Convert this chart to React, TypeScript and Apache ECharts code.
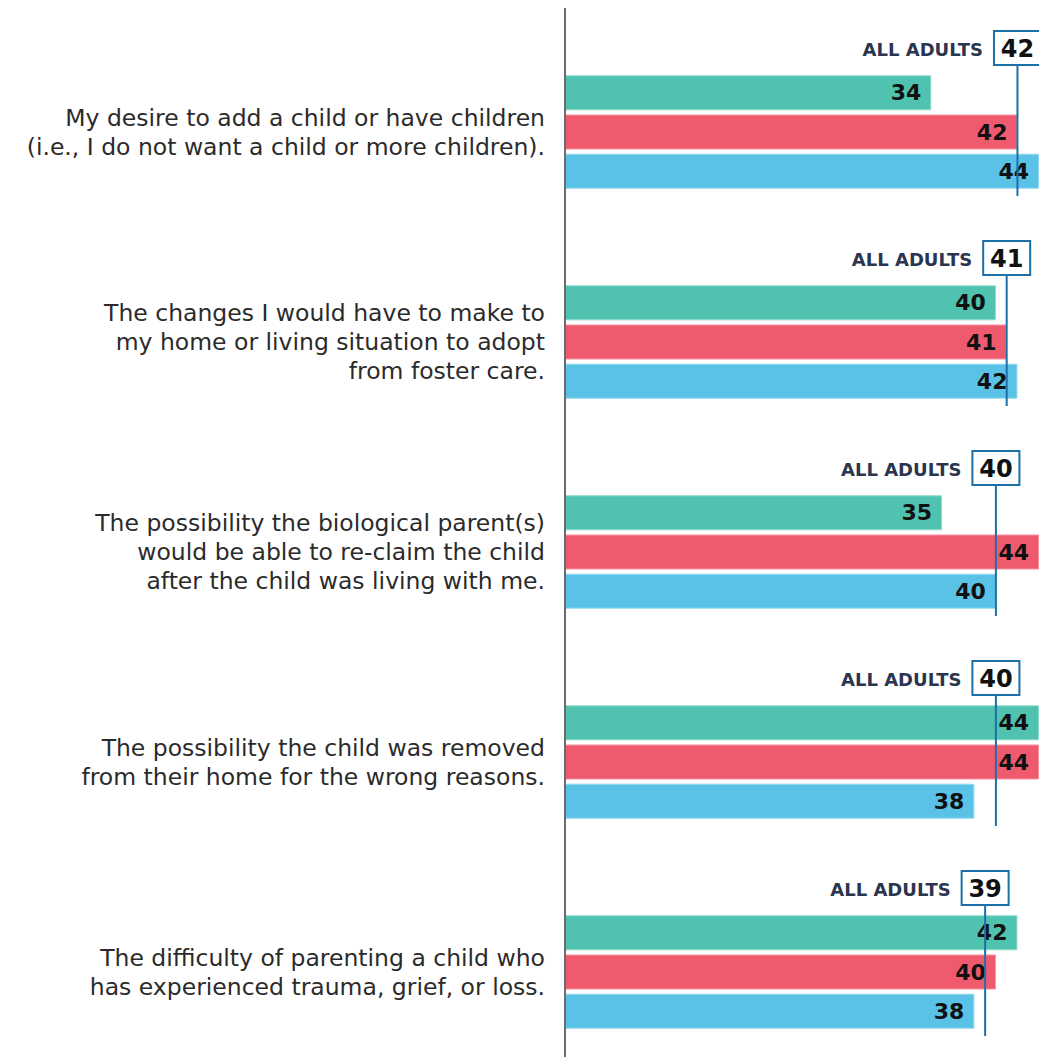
import React, { useEffect, useRef } from "react";
import * as echarts from "echarts";

const categories = [
  "My desire to add a child or have children\n(i.e., I do not want a child or more children).",
  "The changes I would have to make to\nmy home or living situation to adopt\nfrom foster care.",
  "The possibility the biological parent(s)\nwould be able to re-claim the child\nafter the child was living with me.",
  "The possibility the child was removed\nfrom their home for the wrong reasons.",
  "The difficulty of parenting a child who\nhas experienced trauma, grief, or loss.",
];
const greenValues = [34, 40, 35, 44, 42];
const redValues = [42, 41, 44, 44, 40];
const blueValues = [44, 42, 40, 38, 38];
const allAdultsValues = [42, 41, 40, 40, 39];
const markerLabel = "ALL ADULTS";

const FONT = "'DejaVu Sans', sans-serif";

export default function App() {
  const ref = useRef<HTMLDivElement>(null);
  useEffect(() => {
    if (!ref.current) return;
    const chart = echarts.init(ref.current, undefined, { renderer: "svg" });
    const barLabel = {
      show: true,
      position: "insideRight" as const,
      distance: 10,
      color: "#111",
      fontSize: 22,
      fontWeight: 600,
      fontFamily: FONT,
    };
    const mkBar = (name: string, data: number[], color: string, border: string) => ({
      type: "bar",
      name,
      data,
      barWidth: 35,
      barGap: "12%",
      itemStyle: { color, borderColor: border, borderWidth: 1 },
      label: barLabel,
      z: 2,
    });
    chart.setOption({
      animation: false,
      grid: { left: 565, right: 0, top: 27, bottom: 0, containLabel: false },
      xAxis: { type: "value", min: 0, max: 44, show: false },
      yAxis: {
        type: "category",
        data: categories,
        inverse: true,
        axisLine: { show: false },
        axisTick: { show: false },
        axisLabel: {
          margin: 20,
          fontSize: 23.5,
          lineHeight: 29,
          color: "#2b2b2b",
          fontFamily: FONT,
          align: "right",
        },
      },
      graphic: [
        {
          type: "line",
          shape: { x1: 565, y1: 8, x2: 565, y2: 1077 },
          style: { stroke: "#6b6b6b", lineWidth: 2 },
          z: 10,
        },
      ],
      series: [
        mkBar("green", greenValues, "#4FC3AF", "#8fdccd"),
        mkBar("red", redValues, "#F05A6E", "#f7939f"),
        mkBar("blue", blueValues, "#5BC2E7", "#94d8f0"),
        {
          type: "custom",
          clip: false,
          z: 5,
          data: allAdultsValues.map((v, i) => [v, i]),
          encode: { x: 0, y: 1 },
          renderItem: (params: any, api: any) => {
            const v = api.value(0);
            const idx = api.value(1);
            const [x, y] = api.coord([v, idx]);
            const bw = 47;
            const bh = 34;
            const boxCy = y - 84;
            const stroke = "#1D6FA8";
            return {
              type: "group",
              children: [
                {
                  type: "line",
                  shape: { x1: x, y1: boxCy + bh / 2, x2: x, y2: y + 64 },
                  style: { stroke, lineWidth: 2 },
                },
                {
                  type: "rect",
                  shape: { x: x - bw / 2, y: boxCy - bh / 2, width: bw, height: bh },
                  style: { fill: "#fff", stroke, lineWidth: 2 },
                },
                {
                  type: "text",
                  style: {
                    text: String(v),
                    x,
                    y: boxCy + 1,
                    align: "center",
                    verticalAlign: "middle",
                    fontSize: 24,
                    fontWeight: "bold",
                    fontFamily: FONT,
                    fill: "#111",
                  },
                },
                {
                  type: "text",
                  style: {
                    text: markerLabel,
                    x: x - bw / 2 - 11,
                    y: boxCy + 1,
                    align: "right",
                    verticalAlign: "middle",
                    fontSize: 18,
                    fontWeight: "bold",
                    fontFamily: FONT,
                    fill: "#2B3550",
                  },
                },
              ],
            };
          },
        },
      ],
    });
    return () => chart.dispose();
  }, []);
  return (
    <div
      style={{
        position: "absolute",
        left: 0,
        top: 0,
        width: 1039,
        height: 1057,
        overflow: "hidden",
      }}
    >
      <div ref={ref} style={{ width: 1039, height: 1077 }} />
    </div>
  );
}
